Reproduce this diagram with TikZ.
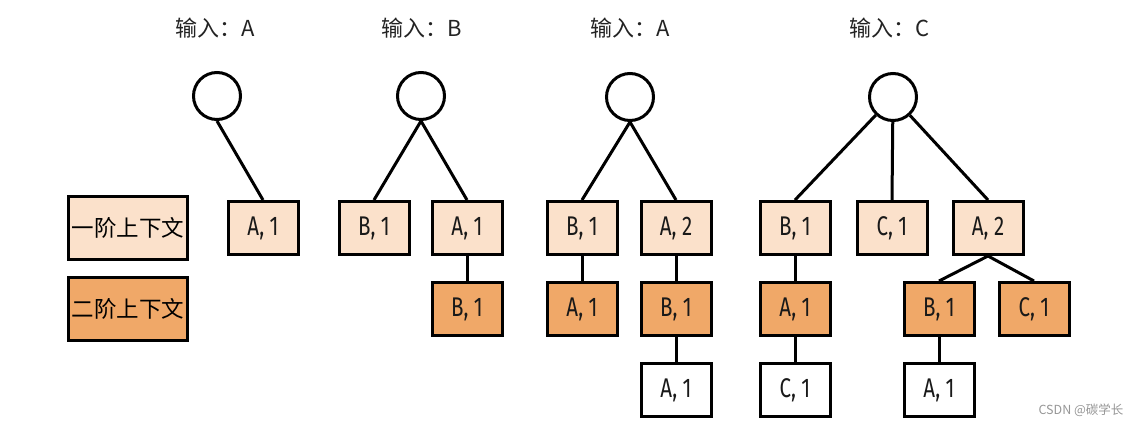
\documentclass[tikz,border=0pt]{standalone}
\usepackage{fontspec}
\usepackage{xcolor}
\usepackage{tikz}
\usetikzlibrary{positioning,shapes}

\setmainfont{Noto Sans CJK SC}
\newfontfamily\boxfont[FakeStretch=0.76]{Fira Sans}

\definecolor{ctxone}{RGB}{251,225,203}
\definecolor{ctxtwo}{RGB}{240,168,104}
\definecolor{titlegray}{RGB}{35,35,35}
\definecolor{markgray}{RGB}{150,150,150}

\begin{document}
\begin{tikzpicture}[x=1pt, y=-1pt, node distance=25pt,
        root/.style={draw, circle, line width=3pt, minimum size=47pt, inner sep=0pt},
        ctx/.style={draw, line width=3pt, minimum width=70pt, minimum height=53pt, inner sep=0pt, text=black!90,
            font=\boxfont\fontsize{27}{29}\selectfont},
        lvlone/.style={ctx, fill=ctxone},
        lvltwo/.style={ctx, fill=ctxtwo},
        lvlthree/.style={ctx, fill=white},
        legend/.style={draw, line width=3pt, minimum width=119pt, minimum height=63pt, inner sep=0pt,
            font=\fontsize{22.5}{24}\selectfont},
        title/.style={font=\fontsize{22}{24}\selectfont, text=titlegray},
        link/.style={line width=3pt}]
        \useasboundingbox (0,0) rectangle (1146,426);

        % legend
        \node [legend, fill=ctxone] (one) at (128,228) {一阶上下文};
        \node [legend, fill=ctxtwo, below=15pt of one] (two) {二阶上下文};

        % input A
        \node [title] (t1) at (215,28) {输入：A};
        \node [root] (r1) at (217,96) {};
        \node [lvlone] (r1a) at (263,228) {A, 1};
        \draw [link] (r1.south) -- (r1a.north);

        % input B
        \node [title] (t2) at (422,28) {输入：B};
        \node [root] (r2) at (421,96) {};
        \node [lvlone] (r2b) at (374,228) {B, 1};
        \node [lvlone] (r2a) at (467,228) {A, 1};
        \node [lvltwo, below=of r2a] (r2ab) {B, 1};
        \draw [link] (r2b.north) -- (r2.south) -- (r2a.north);
        \draw [link] (r2a) -- (r2ab);

        % input A
        \node [title] (t3) at (630,28) {输入：A};
        \node [root] (r3) at (630,97) {};
        \node [lvlone] (r3b) at (582,228) {B, 1};
        \node [lvlone] (r3a) at (676,228) {A, 2};
        \node [lvltwo, below=of r3b] (r3ba) {A, 1};
        \node [lvltwo, below=of r3a] (r3ab) {B, 1};
        \node [lvlthree, below=of r3ab] (r3aba) {A, 1};
        \draw [link] (r3b.north) -- (r3.south) -- (r3a.north);
        \draw [link] (r3b) -- (r3ba);
        \draw [link] (r3a) -- (r3ab) -- (r3aba);

        % input C
        \node [title] (t4) at (890,28) {输入：C};
        \node [root] (r4) at (893,97) {};
        \node [lvlone] (r4b) at (795,228) {B, 1};
        \node [lvlone] (r4c) at (892,228) {C, 1};
        \node [lvlone] (r4a) at (988,228) {A, 2};
        \node [lvltwo, below=of r4b] (r4ba) {A, 1};
        \node [lvlthree, below=of r4ba] (r4bac) {C, 1};
        \node [lvltwo] (r4ab) at (939,309) {B, 1};
        \node [lvltwo] (r4ac) at (1034,309) {C, 1};
        \node [lvlthree, below=of r4ab] (r4aba) {A, 1};
        \draw [link] (r4) -- (r4b.north);
        \draw [link] (r4) -- (r4c.north);
        \draw [link] (r4) -- (r4a.north);
        \draw [link] (r4b) -- (r4ba) -- (r4bac);
        \draw [link] (r4ab.north) -- (r4a.south) -- (r4ac.north);
        \draw [link] (r4ab) -- (r4aba);

        \node [text=markgray, font=\fontsize{12.5}{14}\selectfont] (mark) at (1081,410) {CSDN @碳学长};
    \end{tikzpicture}
\end{document}
